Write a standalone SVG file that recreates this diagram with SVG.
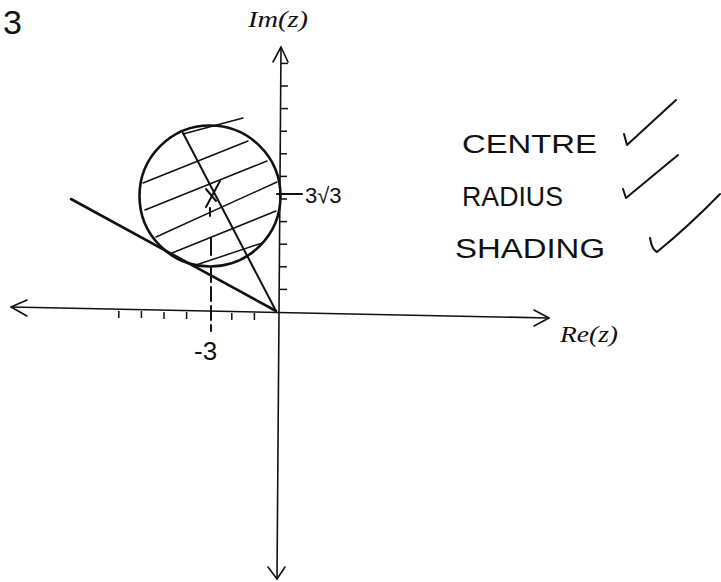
<svg xmlns="http://www.w3.org/2000/svg" width="721" height="582" viewBox="0 0 721 582">
<style>
.ax{stroke:#111;stroke-width:1.6;fill:none;stroke-linecap:round;stroke-linejoin:round}
.tk{stroke:#111;stroke-width:1.5;fill:none}
.thick{stroke:#111;stroke-width:2.6;fill:none;stroke-linecap:round}
.mid{stroke:#111;stroke-width:2;fill:none;stroke-linecap:round}
.hatch{stroke:#111;stroke-width:1.5;fill:none;stroke-linecap:round}
.pen{stroke:#111;stroke-width:2;fill:none;stroke-linecap:round;stroke-linejoin:round}
.lbl{font-family:"Liberation Serif",serif;font-style:italic;fill:#111}
.hand{font-family:"Liberation Sans",sans-serif;fill:#111}
</style>
<rect width="721" height="582" fill="#fff"/>
<g id="axes">
<line class="ax" x1="11" y1="307" x2="549" y2="318"/>
<polyline class="ax" points="27,300 11,307 27,316"/>
<polyline class="ax" points="534,310 549,318 534,326"/>
<line class="ax" x1="281" y1="47" x2="277" y2="579"/>
<polyline class="ax" points="273,62 281,47 288,62"/>
<polyline class="ax" points="268,567 277,579 285,567"/>
<g id="yticks" class="tk">
<line x1="280" y1="289.4" x2="287" y2="289.4"/>
<line x1="280" y1="266.8" x2="287" y2="266.8"/>
<line x1="280" y1="244.2" x2="287" y2="244.2"/>
<line x1="280" y1="221.6" x2="287" y2="221.6"/>
<line x1="280" y1="199" x2="287" y2="199"/>
<line x1="280" y1="176.4" x2="287" y2="176.4"/>
<line x1="280" y1="153.8" x2="287" y2="153.8"/>
<line x1="280" y1="131.2" x2="287" y2="131.2"/>
<line x1="281" y1="108.6" x2="288" y2="108.6"/>
<line x1="281" y1="86" x2="288" y2="86"/>
<line x1="281" y1="63.4" x2="288" y2="63.4"/>
</g>
<g id="xticks" class="tk">
<line x1="254.4" y1="313" x2="254.4" y2="320"/>
<line x1="231.8" y1="313" x2="231.8" y2="320"/>
<line x1="186.6" y1="312" x2="186.6" y2="319"/>
<line x1="164" y1="312" x2="164" y2="319"/>
<line x1="141.4" y1="311" x2="141.4" y2="318"/>
<line x1="118.8" y1="311" x2="118.8" y2="318"/>
</g>
<text class="lbl" x="248" y="27" font-size="23" textLength="60" lengthAdjust="spacingAndGlyphs">Im(z)</text>
<text class="lbl" x="560" y="342" font-size="23" textLength="58" lengthAdjust="spacingAndGlyphs">Re(z)</text>
</g>
<g id="region">
<circle class="thick" cx="210" cy="196" r="70.5" stroke-width="3"/>
<g id="hatching" class="hatch">
<line x1="183" y1="134" x2="243" y2="118"/>
<line x1="143" y1="183" x2="248" y2="141"/>
<line x1="145" y1="210" x2="267" y2="161"/>
<line x1="156" y1="237" x2="277" y2="182"/>
<line x1="172" y1="253" x2="276" y2="211"/>
<line x1="196" y1="265" x2="262" y2="243"/>
</g>
</g>
<g id="connectors">
<line class="thick" x1="71" y1="199" x2="276" y2="311"/>
<line class="mid" x1="183" y1="133" x2="276" y2="311"/>
<line class="mid" x1="211" y1="268" x2="211" y2="331" stroke-dasharray="14 5"/>
<line class="mid" x1="211" y1="238" x2="211" y2="255"/>
</g>
<g id="centre-mark" class="pen">
<line x1="220" y1="181" x2="206" y2="207"/>
<line x1="206" y1="189" x2="216" y2="201"/>
<line x1="210" y1="208" x2="210" y2="216"/>
</g>
<g id="labels">
<text class="hand" x="3" y="34" font-size="34">3</text>
<line class="pen" x1="277" y1="194" x2="302" y2="194"/>
<text class="hand" x="305" y="203" font-size="22">3√3</text>
<text class="hand" x="194" y="360" font-size="26">-3</text>
</g>
<g id="notes">
<text class="hand" x="462" y="153" font-size="25" textLength="135" lengthAdjust="spacingAndGlyphs">CENTRE</text>
<text class="hand" x="462" y="206" font-size="27" textLength="101" lengthAdjust="spacingAndGlyphs">RADIUS</text>
<text class="hand" x="455" y="258" font-size="27" textLength="150" lengthAdjust="spacingAndGlyphs">SHADING</text>
<polyline class="pen" points="624,134 627,145 676,100"/>
<polyline class="pen" points="623,189 626,198 678,155"/>
<path class="pen" d="M650,238 Q652,250 657,252 Q690,225 720,194"/>
</g>
</svg>
